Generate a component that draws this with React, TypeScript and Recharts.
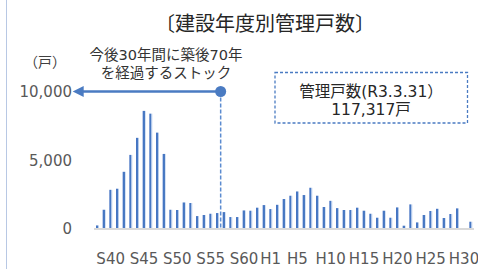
import React from 'react';
import { BarChart, Bar, XAxis, YAxis, ReferenceLine, ReferenceDot } from 'recharts';

const years = [
  1963, 1964, 1965, 1966, 1967, 1968, 1969, 1970, 1971, 1972,
  1973, 1974, 1975, 1976, 1977, 1978, 1979, 1980, 1981, 1982,
  1983, 1984, 1985, 1986, 1987, 1988, 1989, 1990, 1991, 1992,
  1993, 1994, 1995, 1996, 1997, 1998, 1999, 2000, 2001, 2002,
  2003, 2004, 2005, 2006, 2007, 2008, 2009, 2010, 2011, 2012,
  2013, 2014, 2015, 2016, 2017, 2018, 2019,
];

const units = [
  260, 1400, 2850, 2930, 4160, 5390, 6630, 8590, 8390, 7010,
  5460, 1400, 1380, 1930, 1890, 940, 1020, 1110, 1160, 1230,
  870, 870, 1350, 1330, 1550, 1740, 1450, 1760, 2180, 2420,
  2730, 2470, 3000, 2420, 1600, 2050, 1520, 1380, 1380, 1550,
  1330, 1110, 820, 1330, 820, 1570, 240, 1790, 480, 1020,
  1310, 1470, 800, 1090, 1500, 0, 530,
];

const tickYears = [1965, 1970, 1975, 1980, 1985, 1989, 1993, 1998, 2003, 2008, 2013, 2018];
const tickLabels = ['S40', 'S45', 'S50', 'S55', 'S60', 'H1', 'H5', 'H10', 'H15', 'H20', 'H25', 'H30'];
const yTicks = [0, 5000, 10000];

// stock older than 70 years within 30 years: built up to this category index boundary
const cutoffIndex = 19;
const arrowTipIndex = -3.2;
const arrowLevel = 10000;

const title = '〔建設年度別管理戸数〕';
const unitLabel = '（戸）';
const noteLines = ['今後30年間に築後70年', 'を経過するストック'];
const boxLines = ['管理戸数(R3.3.31）', '117,317戸'];

const rows = years.map((y, i) => ({ year: y, units: units[i], idx: i + 0.5 }));

const BLUE = '#4a7bc2';
const CJK = '"Noto Sans CJK JP", "Noto Sans", sans-serif';
const MIX = '"DejaVu Sans", "Noto Sans CJK JP", sans-serif';
const LAT = '"DejaVu Sans", sans-serif';

const fmtX = (v: number) => {
  const k = tickYears.indexOf(v);
  return k >= 0 ? tickLabels[k] : '';
};

const ArrowShape = (props: any) => {
  const { x1, y1, x2, y2 } = props;
  if (x1 == null || x2 == null) return null;
  const left = Math.min(x1, x2);
  const right = Math.max(x1, x2);
  const y = (y1 + y2) / 2;
  const head = 11;
  return (
    <g>
      <line x1={left + head - 1} y1={y} x2={right} y2={y} stroke={BLUE} strokeWidth={2.5} />
      <polygon points={`${left},${y} ${left + head},${y - 5.5} ${left + head},${y + 5.5}`} fill={BLUE} />
    </g>
  );
};

export default function App() {
  return (
    <div style={{ position: 'absolute', left: 0, top: 0, width: 478, height: 269, background: '#fff', overflow: 'hidden' }}>
      <BarChart
        width={478}
        height={269}
        data={rows}
        margin={{ top: 91.5, right: 4, bottom: 10, left: 0 }}
        barCategoryGap={0}
      >
        <defs>
          <linearGradient id="barGrad" x1="0" y1="0" x2="1" y2="0">
            <stop offset="0%" stopColor="#4472c4" />
            <stop offset="62%" stopColor="#4a7bc2" />
            <stop offset="63%" stopColor="#a9c2e8" />
            <stop offset="100%" stopColor="#c4d5f0" />
          </linearGradient>
        </defs>
        <XAxis
          xAxisId="cat"
          dataKey="year"
          type="category"
          ticks={tickYears}
          interval={0}
          tickFormatter={fmtX}
          tickLine={false}
          tickSize={0}
          tickMargin={24}
          height={30}
          axisLine={{ stroke: '#d9d9d9', strokeWidth: 2 }}
          tick={{ fill: '#595959', fontSize: 15, fontFamily: LAT }}
        />
        <XAxis xAxisId="n" dataKey="idx" type="number" domain={[0, years.length]} hide allowDataOverflow />
        <YAxis
          domain={[0, 10000]}
          ticks={yTicks}
          width={94}
          tickLine={false}
          axisLine={false}
          tickSize={0}
          tickMargin={22}
          tickFormatter={(v: number) => v.toLocaleString('en-US')}
          tick={{ fill: '#595959', fontSize: 15, fontFamily: LAT }}
        />
        <Bar xAxisId="cat" dataKey="units" barSize={3} fill="url(#barGrad)" isAnimationActive={false} />
        <ReferenceLine
          xAxisId="n"
          segment={[{ x: cutoffIndex, y: arrowLevel }, { x: cutoffIndex, y: 0 }]}
          stroke="#5b8bd0"
          strokeWidth={1.5}
          strokeDasharray="4 2"
          ifOverflow="visible"
        />
        <ReferenceLine
          xAxisId="n"
          segment={[{ x: arrowTipIndex, y: arrowLevel }, { x: cutoffIndex, y: arrowLevel }]}
          ifOverflow="visible"
          shape={ArrowShape}
        />
        <ReferenceDot
          xAxisId="n"
          x={cutoffIndex}
          y={arrowLevel}
          r={5.5}
          fill={BLUE}
          stroke="none"
          ifOverflow="visible"
        />
      </BarChart>
      <svg width={478} height={269} style={{ position: 'absolute', left: 0, top: 0, pointerEvents: 'none' }}>
        <line x1={6.5} y1={0} x2={6.5} y2={269} stroke="#b8c8e4" strokeWidth={1} />
        <text x={265} y={22} textAnchor="middle" dominantBaseline="central" fontSize={20} fontFamily={CJK} fill="#262626">
          {title}
        </text>
        <text x={45} y={62} textAnchor="middle" dominantBaseline="central" fontSize={14} fontFamily={MIX} fill="#404040">
          {unitLabel}
        </text>
        <text x={166} y={55} textAnchor="middle" dominantBaseline="central" fontSize={14.5} fontFamily={MIX} fill="#333">
          {noteLines[0]}
        </text>
        <text x={166} y={72.5} textAnchor="middle" dominantBaseline="central" fontSize={14.5} fontFamily={MIX} fill="#333">
          {noteLines[1]}
        </text>
        <rect x={275} y={72.5} width={192.5} height={50.5} fill="none" stroke="#4a7bc2" strokeWidth={1.3} strokeDasharray="3 2" />
        <text x={371} y={91.5} textAnchor="middle" dominantBaseline="central" fontSize={15.5} fontFamily={MIX} fill="#262626">
          {boxLines[0]}
        </text>
        <text x={371} y={110} textAnchor="middle" dominantBaseline="central" fontSize={15.5} fontFamily={MIX} fill="#262626">
          {boxLines[1]}
        </text>
      </svg>
    </div>
  );
}
